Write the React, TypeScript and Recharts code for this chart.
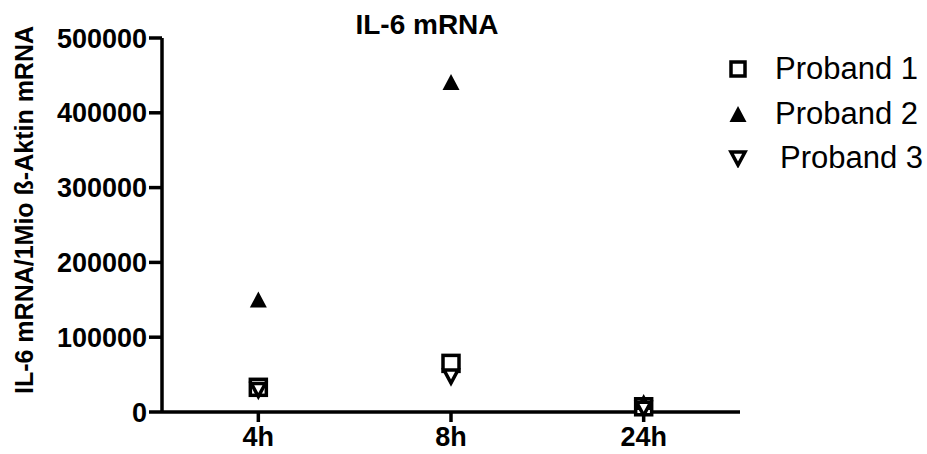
import { ScatterChart, Scatter, XAxis, YAxis, Label } from 'recharts'

const categories = ['4h', '8h', '24h']
const proband1 = [33000, 65000, 7000]
const proband2 = [149000, 440000, 12000]
const proband3 = [30000, 48000, 5000]
const yTicks = [0, 100000, 200000, 300000, 400000, 500000]
const seriesNames = ['Proband 1', 'Proband 2', 'Proband 3']

const font = '"Liberation Sans", Arial, sans-serif'

const toPoints = (vals: number[]) => vals.map((v, i) => ({ x: i + 1, y: v }))

const SquareMark = ({ cx, cy }: any) => (
    <rect x={cx - 8} y={cy - 8} width={16} height={16} fill="#fff" stroke="#000" strokeWidth={3.5} />
)
const UpMark = ({ cx, cy }: any) => (
    <polygon points={`${cx},${cy - 9} ${cx + 8.5},${cy + 7} ${cx - 8.5},${cy + 7}`} fill="#000" />
)
const DownMark = ({ cx, cy }: any) => (
    <polygon points={`${cx - 7},${cy - 6} ${cx + 7},${cy - 6} ${cx},${cy + 7}`} fill="#fff" stroke="#000" strokeWidth={3.5} />
)

const LegendBox = () => {
    const icons = [
        <rect x={3} y={3} width={14} height={14} fill="#fff" stroke="#000" strokeWidth={3.5} />,
        <polygon points="10,2 18.5,18 1.5,18" fill="#000" />,
        <polygon points="3,4 17,4 10,17" fill="#fff" stroke="#000" strokeWidth={3.5} />,
    ]
    return (
        <div style={{ position: 'absolute', left: 728, top: 47, fontFamily: font, fontSize: 31, color: '#000' }}>
            {seriesNames.map((n, i) => (
                <div key={n} style={{ display: 'flex', alignItems: 'center', height: 44.5 }}>
                    <svg width={20} height={20} style={{ marginRight: i === 2 ? 32 : 27 }}>{icons[i]}</svg>
                    <span>{n}</span>
                </div>
            ))}
        </div>
    )
}

const YLabel = ({ viewBox }: any) => {
    const cx = 24
    const cy = viewBox.y + viewBox.height / 2 - 15
    return (
        <text x={cx} y={cy} transform={`rotate(-90, ${cx}, ${cy})`} textAnchor="middle" dominantBaseline="central"
            fontFamily={font} fontWeight="bold" fontSize={25} fill="#000">
            IL-6 mRNA/1Mio ß-Aktin mRNA
        </text>
    )
}

export default function App() {
    const tickStyle = { fill: '#000', fontFamily: font, fontWeight: 'bold', fontSize: 27 }
    return (
        <div style={{ position: 'absolute', left: 0, top: 0, width: 927, height: 454, background: '#fff' }}>
            <div style={{ position: 'absolute', left: 427, top: 25, transform: 'translate(-50%, -50%)', fontFamily: font, fontWeight: 'bold', fontSize: 28, whiteSpace: 'nowrap' }}>
                IL-6 mRNA
            </div>
            <LegendBox />
            <ScatterChart width={927} height={454} margin={{ top: 38, right: 187, bottom: 0, left: 0 }}>
                <XAxis type="number" dataKey="x" domain={[0.5, 3.5]} ticks={[1, 2, 3]} allowDataOverflow
                    tickFormatter={(v) => categories[v - 1]} height={42}
                    axisLine={{ stroke: '#000', strokeWidth: 3.5 }} tickLine={{ stroke: '#000', strokeWidth: 3.5 }}
                    tickSize={10} tickMargin={5} tick={tickStyle} />
                <YAxis type="number" dataKey="y" domain={[0, 500000]} ticks={yTicks} width={162}
                    axisLine={{ stroke: '#000', strokeWidth: 3.5 }} tickLine={{ stroke: '#000', strokeWidth: 3.5 }}
                    tickSize={13} tickMargin={2} tick={tickStyle} interval={0}>
                    <Label content={<YLabel />} />
                </YAxis>
                <Scatter name={seriesNames[0]} data={toPoints(proband1)} shape={<SquareMark />} isAnimationActive={false} />
                <Scatter name={seriesNames[1]} data={toPoints(proband2)} shape={<UpMark />} isAnimationActive={false} />
                <Scatter name={seriesNames[2]} data={toPoints(proband3)} shape={<DownMark />} isAnimationActive={false} />
            </ScatterChart>
        </div>
    )
}
